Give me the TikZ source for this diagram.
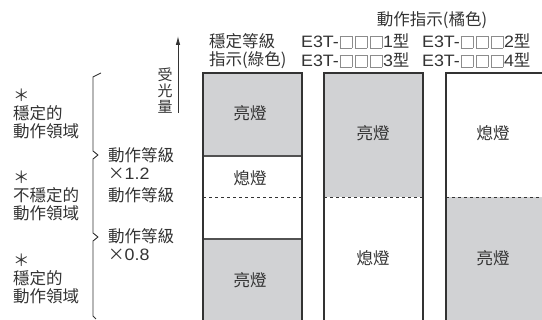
\documentclass[tikz,border=0pt]{standalone}
\usepackage{fontspec}
\setmainfont{Noto Sans CJK TC}
\newfontfamily\lat[FakeStretch=1.08]{Liberation Sans}
\usetikzlibrary{arrows.meta}
\definecolor{ink}{HTML}{333333}
\definecolor{lit}{HTML}{D1D2D4}
\definecolor{sq}{HTML}{8C8C8C}
\tikzset{
  lbl/.style={inner sep=0pt, text=ink, font=\fontsize{16.5}{18}\selectfont, align=left},
  cell/.style={inner sep=0pt, text=ink, font=\fontsize{16.5}{18}\selectfont},
  boxline/.style={draw=ink, line width=1.2pt},
  divline/.style={draw=ink!85, line width=1.4pt},
  dashline/.style={draw=ink, line width=0.8pt, dash pattern=on 3pt off 3pt},
  brace/.style={draw=ink, line width=0.9pt, line join=round},
}
\newcommand{\onesq}{\raisebox{-0.8pt}{\textcolor{sq}{\setlength\fboxsep{0pt}\setlength\fboxrule{0.7pt}\fbox{\rule{0pt}{11.6pt}\hspace{11.4pt}}}}}
\newcommand{\sqs}{\hspace{0.8pt}\onesq\hspace{2.2pt}\onesq\hspace{2.2pt}\onesq\hspace{0.6pt}}
\begin{document}
\begin{tikzpicture}[x=1pt,y=-1pt]
\useasboundingbox (0,0) rectangle (542,320);
\clip (0,0) rectangle (542,320);
% fills
\fill[lit] (203,73) rectangle (302,156);
\fill[lit] (203,239) rectangle (302,325);
\fill[lit] (324,73) rectangle (423,197);
\fill[lit] (446,197) rectangle (550,325);
% inner lines
\draw[divline] (203,156) -- (302,156);
\draw[divline] (203,239) -- (302,239);
\draw[dashline] (203,197) -- (302,197);
\draw[dashline] (324,197) -- (423,197);
\draw[dashline] (446,197) -- (550,197);
% box outlines (open at bottom)
\draw[boxline] (203,325) -- (203,73) -- (302,73) -- (302,325);
\draw[boxline] (324,325) -- (324,73) -- (423,73) -- (423,325);
\draw[boxline] (446,325) -- (446,73) -- (550,73) -- (550,325);
% box labels
\node[cell] (b1a) at (250,113) {亮燈};
\node[cell] (b1b) at (250,178) {熄燈};
\node[cell] (b1c) at (250,280) {亮燈};
\node[cell] (b2a) at (373,133) {亮燈};
\node[cell] (b2b) at (373,258) {熄燈};
\node[cell] (b3a) at (493,133) {熄燈};
\node[cell] (b3b) at (493,258) {亮燈};
% headers
\node[lbl, anchor=west, font=\fontsize{16.5}{18.5}\selectfont] (h1) at (209,51) {穩定等級\\指示(綠色)};
\node[lbl] (h2) at (432,20) {動作指示(橘色)};
\node[lbl, anchor=west] (t1) at (301,41) {{\lat E3T-}\sqs{\lat 1}型};
\node[lbl, anchor=west] (t2) at (422,41) {{\lat E3T-}\sqs{\lat 2}型};
\node[lbl, anchor=west] (t3) at (301,60) {{\lat E3T-}\sqs{\lat 3}型};
\node[lbl, anchor=west] (t4) at (422,60) {{\lat E3T-}\sqs{\lat 4}型};
% axis arrow
\coordinate (ab) at (178,113);
\coordinate (at) at (178,36);
\draw[draw=ink, line width=0.9pt, -{Latex[length=9pt,width=4.5pt]}] (ab) -- (at);
\node[lbl, align=center, font=\fontsize{15}{16}\selectfont] (axl) at (165,91) {受\\光\\量};
% brace
\draw[brace] (101,73) -- (93,77) -- (93,151) -- (98,155) -- (93,159) -- (93,233) -- (98,237) -- (93,241) -- (93,316) -- (96,319);
% middle labels
\node[lbl, anchor=west] (m1) at (108,164) {動作等級\\×{\lat 1.2}};
\node[lbl, anchor=west] (m2) at (108,195) {動作等級};
\node[lbl, anchor=west] (m3) at (108,245) {動作等級\\×{\lat 0.8}};
% left labels
\node[lbl, anchor=west] (l1) at (13,114) {＊\\穩定的\\動作領域};
\node[lbl, anchor=west] (l2) at (13,196) {＊\\不穩定的\\動作領域};
\node[lbl, anchor=west] (l3) at (13,279) {＊\\穩定的\\動作領域};
\end{tikzpicture}
\end{document}
